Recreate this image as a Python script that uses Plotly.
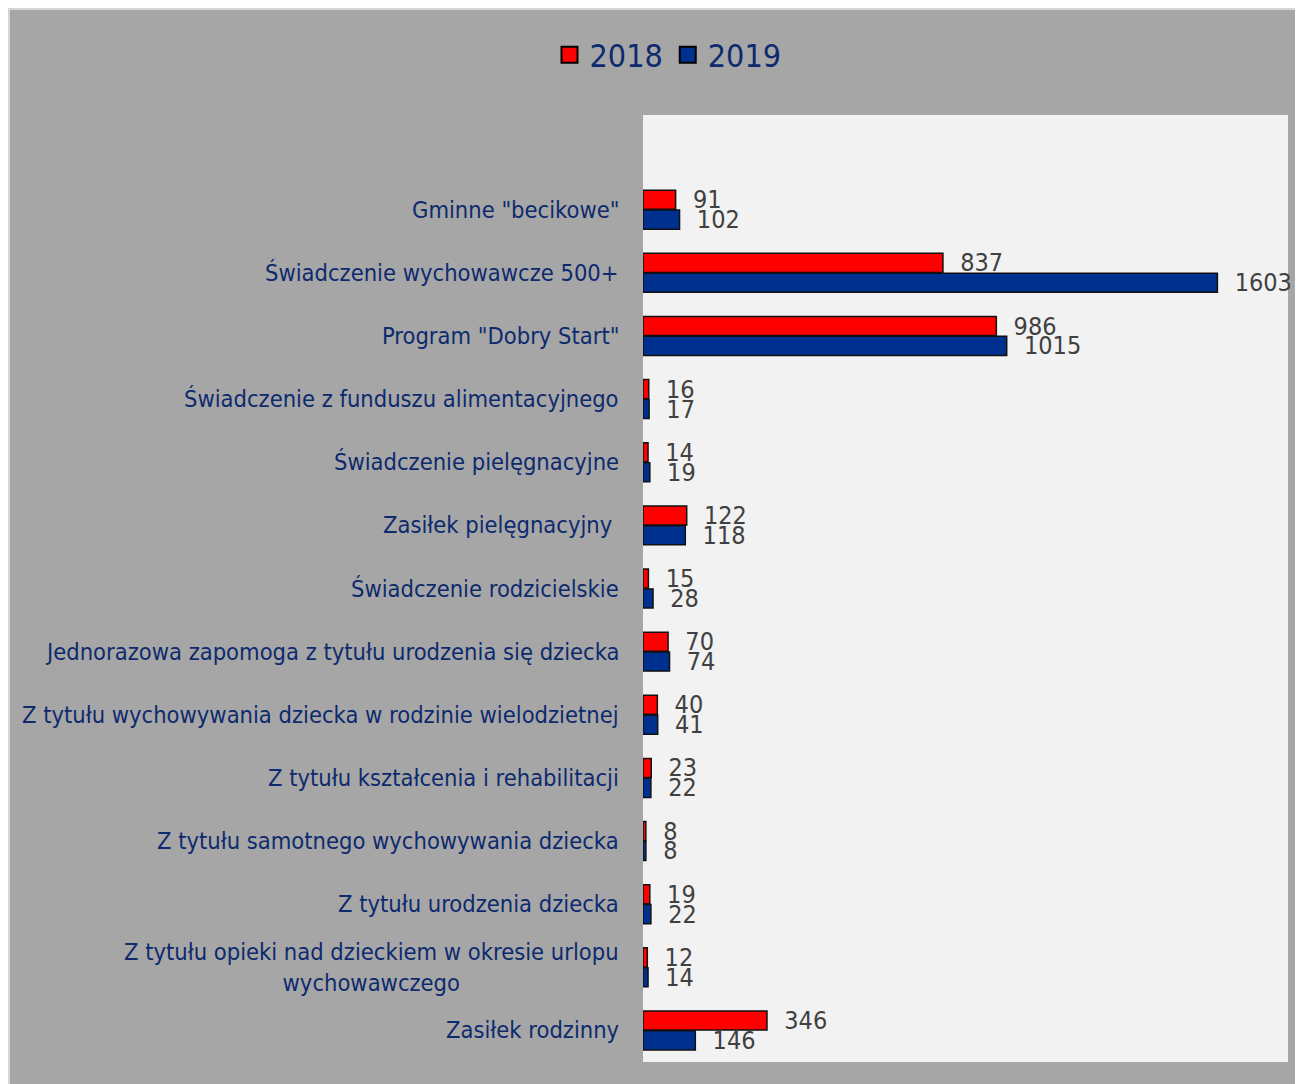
import plotly.graph_objects as go

categories = [
    'Gminne "becikowe"',
    'Świadczenie wychowawcze 500+',
    'Program "Dobry Start"',
    'Świadczenie z funduszu alimentacyjnego',
    'Świadczenie pielęgnacyjne',
    'Zasiłek pielęgnacyjny ',
    'Świadczenie rodzicielskie',
    'Jednorazowa zapomoga z tytułu urodzenia się dziecka',
    'Z tytułu wychowywania dziecka w rodzinie wielodzietnej',
    'Z tytułu kształcenia i rehabilitacji',
    'Z tytułu samotnego wychowywania dziecka',
    'Z tytułu urodzenia dziecka',
    'Z tytułu opieki nad dzieckiem w okresie urlopu<br>wychowawczego',
    'Zasiłek rodzinny',
]
values_2018 = [91, 837, 986, 16, 14, 122, 15, 70, 40, 23, 8, 19, 12, 346]
values_2019 = [102, 1603, 1015, 17, 19, 118, 28, 74, 41, 22, 8, 22, 14, 146]
series_names = ["2018", "2019"]
series_colors = ["#ff0000", "#00308f"]

n = len(categories)
ypos = [n - 1 - i for i in range(n)]

FONT = "DejaVu Sans Condensed, DejaVu Sans, sans-serif"
NAVY = "#0d2a6e"

fig = go.Figure()
# horizontal grouped bars put the first trace at the bottom -> add 2019 first
for name, vals, col in [(series_names[1], values_2019, series_colors[1]),
                        (series_names[0], values_2018, series_colors[0])]:
    fig.add_trace(go.Bar(
        name=name, x=vals, y=ypos, orientation="h",
        marker=dict(color=col, line=dict(color="#111111", width=1.5)),
        texttemplate="\u00a0\u00a0%{x}", textposition="outside",
        textfont=dict(family=FONT, size=25, color="#404040"),
        constraintext="none", cliponaxis=False, showlegend=False,
    ))

# legend entries
for name, col in zip(series_names, series_colors):
    fig.add_trace(go.Scatter(
        name=name, x=[None], y=[None], mode="markers",
        marker=dict(symbol="square", size=20, color=col,
                    line=dict(color="black", width=2)),
        showlegend=True, hoverinfo="skip",
    ))

annotations = []
for cat, y in zip(categories, ypos):
    annotations.append(dict(
        x=0, xref="paper", y=y, yref="y", text=cat, showarrow=False,
        xanchor="right", yanchor="middle", xshift=-22, align="center",
        font=dict(family=FONT, size=23.5, color=NAVY),
    ))

# page is offset by the 8px body margin
OFF = 8
W, H = 1320, 1100
L, T = 643 - OFF, 115 - OFF
R = W - (1288 - OFF)
B = H - (1062 - OFF)
pw, ph = W - L - R, H - T - B
def px_x(p):
    return (p - OFF - L) / pw
def px_y(p):
    return (H - B - (p - OFF)) / ph

shapes = [
    dict(type="line", xref="paper", yref="paper", layer="below",
         x0=px_x(8), x1=px_x(W + 20), y0=px_y(9), y1=px_y(9),
         line=dict(color="#d6d6d6", width=2)),
    dict(type="line", xref="paper", yref="paper", layer="below",
         x0=px_x(9), x1=px_x(9), y0=px_y(8), y1=px_y(H + 20),
         line=dict(color="#d6d6d6", width=2)),
]

fig.update_layout(
    width=W, height=H,
    margin=dict(l=L, r=R, t=T, b=B, pad=0),
    paper_bgcolor="#a6a6a6", plot_bgcolor="#f2f2f2",
    barmode="group", bargap=0.37, bargroupgap=0.04,
    showlegend=True,
    legend=dict(orientation="h", x=px_x(668), xanchor="center",
                y=px_y(55), yanchor="middle",
                font=dict(family=FONT, size=32, color=NAVY),
                bgcolor="rgba(0,0,0,0)", itemwidth=30,
                traceorder="normal"),
    xaxis=dict(range=[0, 1800], visible=False, showgrid=False, zeroline=False),
    yaxis=dict(range=[-0.5, n + 0.5], showticklabels=False, showgrid=False,
               zeroline=False, tickvals=ypos),
    annotations=annotations,
    shapes=shapes,
)

fig.write_html("out.html")
